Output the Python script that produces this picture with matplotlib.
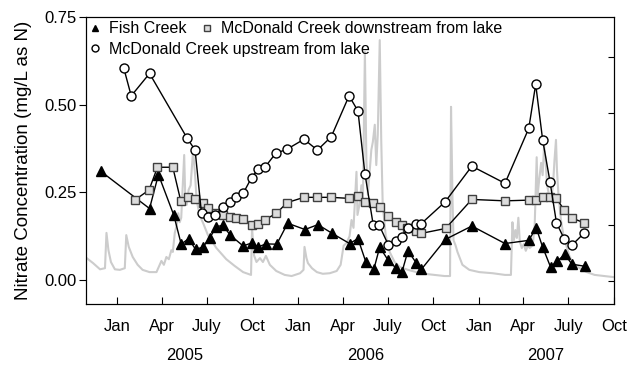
import numpy as np
import pandas as pd
import matplotlib
matplotlib.use("Agg")
import matplotlib.pyplot as plt
import matplotlib.dates as mdates
from matplotlib.lines import Line2D
from matplotlib.ticker import FuncFormatter

plt.rcParams['font.family'] = ['Liberation Sans', 'DejaVu Sans']

# Nitrate concentration, mg/L as N
fish_dates = ['2004-11-28', '2005-03-07', '2005-03-25', '2005-04-25', '2005-05-10',
              '2005-05-25', '2005-06-08', '2005-06-23', '2005-07-07', '2005-07-20',
              '2005-08-02', '2005-08-17', '2005-09-12', '2005-09-30', '2005-10-12',
              '2005-10-28', '2005-11-19', '2005-12-11', '2006-01-15', '2006-02-10',
              '2006-03-11', '2006-04-15', '2006-05-02', '2006-05-18', '2006-06-03',
              '2006-06-15', '2006-07-02', '2006-07-17', '2006-07-30', '2006-08-11',
              '2006-08-28', '2006-09-07', '2006-10-26', '2006-12-18', '2007-02-23',
              '2007-04-12', '2007-04-27', '2007-05-10', '2007-05-26', '2007-06-08',
              '2007-06-24', '2007-07-08', '2007-08-03']
fish_no3 = [0.310, 0.203, 0.300, 0.184, 0.101, 0.117, 0.086, 0.093, 0.120, 0.151,
            0.155, 0.127, 0.096, 0.105, 0.093, 0.102, 0.101, 0.161, 0.143, 0.157,
            0.132, 0.103, 0.117, 0.050, 0.029, 0.093, 0.055, 0.034, 0.022, 0.082,
            0.047, 0.029, 0.115, 0.153, 0.103, 0.112, 0.148, 0.093, 0.036, 0.052,
            0.072, 0.044, 0.038]

down_dates = ['2005-02-05', '2005-03-06', '2005-03-23', '2005-04-23', '2005-05-09',
              '2005-05-23', '2005-06-06', '2005-06-22', '2005-07-03', '2005-07-19',
              '2005-08-02', '2005-08-17', '2005-08-29', '2005-09-12', '2005-09-29',
              '2005-10-12', '2005-10-26', '2005-11-18', '2005-12-10', '2006-01-13',
              '2006-02-09', '2006-03-09', '2006-04-14', '2006-05-02', '2006-05-16',
              '2006-06-02', '2006-06-15', '2006-07-02', '2006-07-17', '2006-07-30',
              '2006-08-10', '2006-08-28', '2006-09-07', '2006-10-26', '2006-12-18',
              '2007-02-23', '2007-04-12', '2007-04-26', '2007-05-10', '2007-05-25',
              '2007-06-07', '2007-06-23', '2007-07-08', '2007-08-02']
down_no3 = [0.227, 0.256, 0.321, 0.321, 0.225, 0.235, 0.231, 0.219, 0.205, 0.189,
            0.185, 0.179, 0.176, 0.172, 0.155, 0.160, 0.171, 0.189, 0.220, 0.235,
            0.235, 0.235, 0.232, 0.238, 0.222, 0.219, 0.206, 0.182, 0.165, 0.155,
            0.146, 0.139, 0.132, 0.146, 0.229, 0.225, 0.227, 0.227, 0.236, 0.236,
            0.232, 0.198, 0.176, 0.162]

up_dates = ['2005-01-14', '2005-01-29', '2005-03-07', '2005-05-22', '2005-06-07',
            '2005-06-20', '2005-07-03', '2005-07-18', '2005-08-02', '2005-08-17',
            '2005-08-29', '2005-09-12', '2005-09-29', '2005-10-12', '2005-10-26',
            '2005-11-17', '2005-12-09', '2006-01-13', '2006-02-09', '2006-03-09',
            '2006-04-14', '2006-05-02', '2006-05-16', '2006-06-02', '2006-06-14',
            '2006-07-02', '2006-07-17', '2006-07-30', '2006-08-11', '2006-08-28',
            '2006-09-07', '2006-10-25', '2006-12-18', '2007-02-23', '2007-04-12',
            '2007-04-26', '2007-05-10', '2007-05-25', '2007-06-07', '2007-06-23',
            '2007-07-08', '2007-08-02']
up_no3 = [0.604, 0.525, 0.589, 0.404, 0.370, 0.189, 0.180, 0.185, 0.208, 0.221,
          0.235, 0.246, 0.291, 0.315, 0.321, 0.361, 0.372, 0.401, 0.370, 0.408,
          0.525, 0.482, 0.303, 0.155, 0.155, 0.100, 0.110, 0.122, 0.146, 0.160,
          0.160, 0.222, 0.324, 0.275, 0.432, 0.558, 0.400, 0.279, 0.162, 0.115,
          0.098, 0.133]

# streamflow (relative units, right axis)
q_dates = ['2004-10-31', '2004-11-13', '2004-11-27', '2004-12-07', '2004-12-10',
           '2004-12-14', '2004-12-19', '2004-12-27', '2005-01-06', '2005-01-16',
           '2005-01-19', '2005-01-24', '2005-02-01', '2005-02-11', '2005-02-21',
           '2005-03-07', '2005-03-21', '2005-03-31', '2005-04-05', '2005-04-10',
           '2005-04-15', '2005-04-20', '2005-04-23', '2005-04-27', '2005-05-01',
           '2005-05-04', '2005-05-07', '2005-05-10', '2005-05-16', '2005-05-18',
           '2005-05-21', '2005-05-25', '2005-05-29', '2005-06-03', '2005-06-07',
           '2005-06-10', '2005-06-16', '2005-06-23', '2005-07-03', '2005-07-20',
           '2005-08-09', '2005-08-26', '2005-09-12', '2005-09-28', '2005-09-30',
           '2005-10-04', '2005-10-09', '2005-10-16', '2005-10-22', '2005-10-28',
           '2005-11-05', '2005-11-18', '2005-12-05', '2005-12-19', '2006-01-05',
           '2006-01-12', '2006-01-14', '2006-01-18', '2006-01-21', '2006-01-29',
           '2006-02-08', '2006-02-20', '2006-03-06', '2006-03-20', '2006-03-28',
           '2006-04-03', '2006-04-09', '2006-04-15', '2006-04-19', '2006-04-23',
           '2006-04-29', '2006-05-01', '2006-05-05', '2006-05-09', '2006-05-12',
           '2006-05-16', '2006-05-19', '2006-05-22', '2006-05-25', '2006-05-29',
           '2006-06-01', '2006-06-05', '2006-06-08', '2006-06-11', '2006-06-15',
           '2006-06-18', '2006-06-21', '2006-06-27', '2006-07-05', '2006-07-15',
           '2006-07-26', '2006-08-11', '2006-08-28', '2006-09-13', '2006-10-03',
           '2006-10-24', '2006-11-04', '2006-11-06', '2006-11-09', '2006-11-11',
           '2006-11-15', '2006-11-19', '2006-11-29', '2006-12-13', '2007-01-02',
           '2007-01-29', '2007-02-23', '2007-03-07', '2007-03-10', '2007-03-13',
           '2007-03-16', '2007-03-19', '2007-03-22', '2007-03-25', '2007-03-29',
           '2007-04-02', '2007-04-06', '2007-04-10', '2007-04-14', '2007-04-20',
           '2007-04-24', '2007-04-28', '2007-04-30', '2007-05-03', '2007-05-07',
           '2007-05-10', '2007-05-13', '2007-05-16', '2007-05-19', '2007-05-23',
           '2007-05-27', '2007-05-31', '2007-06-03', '2007-06-06', '2007-06-08',
           '2007-06-11', '2007-06-16', '2007-06-21', '2007-06-27', '2007-07-03',
           '2007-07-10', '2007-07-24', '2007-08-07', '2007-08-23', '2007-09-12',
           '2007-10-01']
q_flow = [0.41, 0.32, 0.21, 0.23, 0.86, 0.55, 0.34, 0.21, 0.20, 0.23,
          0.82, 0.61, 0.43, 0.29, 0.20, 0.16, 0.16, 0.36, 0.29, 0.43,
          0.39, 0.55, 0.52, 0.86, 1.00, 1.21, 1.05, 1.13, 2.25, 1.54,
          1.36, 1.63, 1.71, 2.34, 1.89, 1.45, 1.18, 1.04, 0.82, 0.59,
          0.39, 0.27, 0.16, 0.11, 0.96, 0.46, 0.34, 0.41, 0.34, 0.45,
          0.29, 0.18, 0.11, 0.09, 0.14, 0.20, 0.61, 0.41, 0.32, 0.23,
          0.16, 0.13, 0.14, 0.18, 0.29, 0.63, 0.68, 0.80, 1.09, 0.95,
          1.95, 1.18, 1.36, 1.71, 1.45, 4.09, 2.16, 1.54, 1.89, 2.34,
          2.48, 2.79, 2.07, 2.61, 4.30, 2.52, 1.36, 0.82, 0.52, 0.34,
          0.25, 0.20, 0.16, 0.13, 0.11, 0.09, 0.09, 3.11, 1.45, 0.73,
          0.64, 0.52, 0.29, 0.20, 0.16, 0.14, 0.11, 0.11, 1.05, 0.73,
          0.91, 0.77, 1.13, 0.70, 0.59, 0.66, 0.54, 0.63, 0.59, 0.64,
          1.00, 2.21, 1.54, 1.80, 2.11, 1.89, 2.41, 2.16, 1.71, 1.54,
          1.45, 1.71, 2.16, 2.52, 1.98, 1.54, 1.09, 0.82, 0.63, 0.45,
          0.32, 0.23, 0.16, 0.11, 0.09, 0.07]

month_names = {1: 'Jan', 4: 'Apr', 7: 'July', 10: 'Oct'}
years = ['2005', '2006', '2007']

fig = plt.figure(figsize=(6.29, 3.65), dpi=100)
ax = fig.add_axes([0.137, 0.167, 0.839, 0.786])
ax2 = ax.twinx()

ax2.plot(pd.to_datetime(q_dates), q_flow, color='#cccccc', lw=1.5)
ax2.set_ylim(-0.41, 4.71)
ax2.set_yticks([0, 1, 2, 3, 4])
ax2.tick_params(axis='y', direction='in', length=4, labelright=False)

ax.set_zorder(ax2.get_zorder() + 1)
ax.patch.set_visible(False)

ax.plot(pd.to_datetime(fish_dates), fish_no3, color='black', lw=1,
        marker='^', ms=7, mfc='black', mec='black')
ax.plot(pd.to_datetime(down_dates), down_no3, color='black', lw=1,
        marker='s', ms=5.5, mfc='#dcdcdc', mec='#404040', mew=1)
ax.plot(pd.to_datetime(up_dates), up_no3, color='black', lw=1,
        marker='o', ms=6.5, mfc='white', mec='black', mew=1)

ax.set_xlim(pd.Timestamp('2004-10-30'), pd.Timestamp('2007-10-01'))
ax.set_ylim(-0.07, 0.75)
ax.set_yticks([0, 0.25, 0.5, 0.75])
ax.yaxis.set_major_formatter(FuncFormatter(lambda v, p: '%.2f' % v))
ax.xaxis.set_major_locator(mdates.MonthLocator(bymonth=[1, 4, 7, 10]))
ax.xaxis.set_major_formatter(FuncFormatter(
    lambda v, p: month_names.get(mdates.num2date(v).month, '')))
ax.tick_params(axis='x', direction='in', length=5, labelsize=12, pad=11)
ax.tick_params(axis='y', direction='out', length=5, labelsize=12, pad=2)
ax.set_ylabel('Nitrate Concentration (mg/L as N)', fontsize=13.5, labelpad=9)

for yr in years:
    mid = pd.Timestamp(yr + '-05-17')
    ax.text(mdates.date2num(mid), -0.178, yr, ha='center', va='center',
            fontsize=12, transform=ax.get_xaxis_transform())

# legend: two entries on the first row, one on the second
h_fish = Line2D([], [], ls='none', marker='^', ms=5, mfc='black', mec='black')
h_down = Line2D([], [], ls='none', marker='s', ms=4, mfc='#dcdcdc', mec='#404040')
h_up = Line2D([], [], ls='none', marker='o', ms=5, mfc='white', mec='black')
leg_kw = dict(loc='upper left', frameon=False, fontsize=11.5, handlelength=0.8,
              handletextpad=0.45, borderaxespad=0.0, borderpad=0.0)
leg1 = ax.legend([h_fish, h_down], ['Fish Creek', 'McDonald Creek downstream from lake'],
                 ncol=2, columnspacing=0.9, bbox_to_anchor=(0.005, 0.985), **leg_kw)
ax.add_artist(leg1)
ax.legend([h_up], ['McDonald Creek upstream from lake'],
          bbox_to_anchor=(0.005, 0.915), **leg_kw)

fig.savefig('out.png', dpi=100)
